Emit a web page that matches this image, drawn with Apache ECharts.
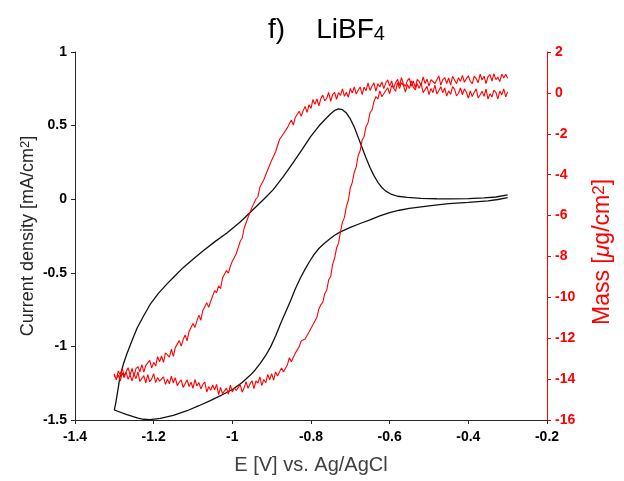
<!DOCTYPE html>
<html>
<head>
<meta charset="utf-8">
<script src="https://cdn.jsdelivr.net/npm/echarts@6/dist/echarts.min.js"></script>
<style>
html,body{margin:0;padding:0;background:#ffffff;}
#chart{width:624px;height:481px;}
</style>
</head>
<body>
<div id="chart"></div>
<script>
// ---- Cyclic voltammogram (current density, mA/cm2) ----
const cvPotential = [
  -0.300,-0.325,-0.350,-0.400,-0.450,-0.500,-0.550,-0.575,-0.600,-0.625,-0.650,-0.675,-0.700,-0.725,-0.740,-0.755,
  -0.768,-0.780,-0.792,-0.804,-0.815,-0.827,-0.840,-0.852,-0.865,-0.878,-0.890,-0.903,-0.916,-0.929,-0.942,-0.954,
  -0.975,-0.997,-1.030,-1.056,-1.085,-1.115,-1.150,-1.183,-1.210,-1.225,-1.240,-1.270,-1.300,
  -1.296,-1.293,-1.289,-1.286,-1.281,-1.277,-1.268,-1.255,-1.242,-1.225,-1.209,-1.188,-1.166,-1.145,-1.125,-1.100,
  -1.074,-1.045,-1.013,-0.980,-0.947,-0.920,-0.896,-0.870,-0.845,-0.822,-0.801,-0.780,-0.765,-0.750,-0.740,-0.730,
  -0.720,-0.710,-0.700,-0.690,-0.680,-0.670,-0.660,-0.650,-0.640,-0.630,-0.620,-0.610,-0.597,-0.580,-0.555,-0.520,
  -0.480,-0.445,-0.400,-0.360,-0.330,-0.300
];
const cvCurrent = [
  0.010,-0.002,-0.012,-0.022,-0.030,-0.045,-0.063,-0.075,-0.092,-0.113,-0.140,-0.165,-0.192,-0.222,-0.245,-0.275,
  -0.305,-0.335,-0.375,-0.425,-0.475,-0.535,-0.610,-0.690,-0.770,-0.850,-0.930,-1.005,-1.065,-1.115,-1.160,-1.195,
  -1.245,-1.288,-1.335,-1.368,-1.403,-1.437,-1.468,-1.489,-1.497,-1.495,-1.487,-1.462,-1.432,
  -1.380,-1.330,-1.265,-1.210,-1.160,-1.120,-1.050,-0.960,-0.875,-0.790,-0.715,-0.640,-0.575,-0.518,-0.465,-0.408,
  -0.350,-0.290,-0.228,-0.155,-0.070,0.000,0.065,0.155,0.250,0.340,0.425,0.497,0.540,0.580,0.603,0.613,
  0.608,0.585,0.545,0.490,0.420,0.350,0.280,0.215,0.160,0.115,0.080,0.055,0.035,0.020,0.012,0.006,
  0.003,0.002,0.004,0.009,0.015,0.030
];

// ---- Mass change (ug/cm2) on the potential sampling grid ----
const scanPotentials = [
  -0.300,-0.305,-0.310,-0.315,-0.320,-0.325,-0.330,-0.335,-0.340,-0.345,
  -0.350,-0.355,-0.360,-0.365,-0.370,-0.375,-0.380,-0.385,-0.390,-0.395,
  -0.400,-0.405,-0.410,-0.415,-0.420,-0.425,-0.430,-0.435,-0.440,-0.445,
  -0.450,-0.455,-0.460,-0.465,-0.470,-0.475,-0.480,-0.485,-0.490,-0.495,
  -0.500,-0.505,-0.510,-0.515,-0.520,-0.525,-0.530,-0.535,-0.540,-0.545,
  -0.550,-0.555,-0.560,-0.565,-0.570,-0.575,-0.580,-0.585,-0.590,-0.595,
  -0.600,-0.605,-0.610,-0.615,-0.620,-0.625,-0.630,-0.635,-0.640,-0.645,
  -0.650,-0.655,-0.660,-0.665,-0.670,-0.675,-0.680,-0.685,-0.690,-0.695,
  -0.700,-0.705,-0.710,-0.715,-0.720,-0.725,-0.730,-0.735,-0.740,-0.745,
  -0.750,-0.755,-0.760,-0.765,-0.770,-0.775,-0.780,-0.785,-0.790,-0.795,
  -0.800,-0.805,-0.810,-0.815,-0.820,-0.825,-0.830,-0.835,-0.840,-0.845,
  -0.850,-0.855,-0.860,-0.865,-0.870,-0.875,-0.880,-0.885,-0.890,-0.895,
  -0.900,-0.905,-0.910,-0.915,-0.920,-0.925,-0.930,-0.935,-0.940,-0.945,
  -0.950,-0.955,-0.960,-0.965,-0.970,-0.975,-0.980,-0.985,-0.990,-0.995,
  -1.000,-1.005,-1.010,-1.015,-1.020,-1.025,-1.030,-1.035,-1.040,-1.045,
  -1.050,-1.055,-1.060,-1.065,-1.070,-1.075,-1.080,-1.085,-1.090,-1.095,
  -1.100,-1.105,-1.110,-1.115,-1.120,-1.125,-1.130,-1.135,-1.140,-1.145,
  -1.150,-1.155,-1.160,-1.165,-1.170,-1.175,-1.180,-1.185,-1.190,-1.195,
  -1.200,-1.205,-1.210,-1.215,-1.220,-1.225,-1.230,-1.235,-1.240,-1.245,
  -1.250,-1.255,-1.260,-1.265,-1.270,-1.275,-1.280,-1.285,-1.290,-1.295,
  -1.300
];
// cathodic sweep, -0.30 V -> -1.30 V
const massCathodic = [
  0.05,-0.19,0.20,-0.10,0.09,-0.29,0.03,0.14,-0.20,-0.04,
  -0.30,0.19,-0.17,0.08,-0.09,-0.25,0.20,0.03,-0.18,0.10,
  -0.26,0.03,0.20,-0.09,0.24,-0.02,-0.15,0.18,0.31,-0.07,
  0.10,-0.16,0.24,0.01,0.30,0.12,-0.05,0.38,0.01,0.22,
  -0.08,0.32,0.29,0.01,0.47,0.22,0.45,0.14,0.28,0.59,
  0.21,0.41,0.04,0.37,0.49,0.21,0.50,0.08,0.24,0.36,
  -0.04,0.25,0.33,-0.04,-0.18,0.10,-0.30,-0.18,-0.43,-0.85,
  -0.97,-1.46,-1.65,-2.13,-2.31,-2.83,-3.06,-3.62,-3.88,-4.38,
  -4.65,-5.25,-5.55,-6.09,-6.32,-6.80,-7.35,-7.59,-8.09,-8.39,
  -8.98,-9.15,-9.65,-9.81,-10.25,-10.36,-10.57,-10.97,-11.05,-11.34,
  -11.33,-11.70,-11.67,-12.04,-11.95,-12.13,-12.42,-12.39,-12.73,-12.72,
  -13.15,-12.95,-13.30,-13.23,-13.65,-13.45,-13.46,-13.85,-13.65,-14.05,
  -13.73,-14.04,-13.77,-14.18,-14.02,-14.32,-13.89,-14.19,-14.09,-14.46,
  -14.08,-14.24,-14.45,-14.13,-14.42,-14.64,-14.27,-14.19,-14.55,-14.43,
  -14.63,-14.29,-14.74,-14.44,-14.35,-14.71,-14.40,-14.76,-14.26,-14.52,
  -14.29,-14.55,-14.37,-14.63,-14.14,-14.26,-14.48,-14.17,-14.34,-14.02,
  -14.45,-14.15,-14.36,-14.03,-14.23,-14.41,-14.04,-14.15,-14.32,-13.93,
  -14.19,-13.85,-14.23,-14.00,-14.26,-13.89,-13.81,-14.10,-13.92,-14.17,
  -13.73,-13.99,-14.13,-13.78,-14.19,-13.83,-13.89,-14.12,-13.65,-13.98,
  -13.76,-14.09,-13.80,-14.01,-13.66,-13.93,-13.69,-14.10,-13.80,-14.00,
  -13.85
];
// anodic sweep, -1.30 V -> -0.30 V
const massAnodic = [
  -13.75,-14.04,-13.60,-13.80,-13.48,-13.84,-13.64,-13.44,-13.81,-13.48,
  -13.84,-13.49,-13.39,-13.64,-13.29,-13.66,-13.33,-13.41,-13.08,-13.45,
  -13.18,-13.36,-12.90,-13.15,-12.87,-13.18,-12.71,-12.82,-12.92,-12.54,
  -12.89,-12.46,-12.52,-12.11,-12.39,-12.07,-11.84,-12.13,-11.67,-11.72,
  -11.28,-11.47,-11.15,-10.87,-11.12,-10.64,-10.68,-10.26,-10.49,-10.19,
  -10.20,-9.67,-9.78,-9.44,-9.57,-9.06,-9.06,-8.69,-8.82,-8.47,
  -8.23,-8.25,-7.87,-7.80,-7.26,-7.11,-6.62,-6.56,-6.08,-6.02,
  -5.60,-5.60,-5.19,-5.08,-4.61,-4.63,-4.25,-4.21,-3.76,-3.67,
  -3.29,-3.27,-2.88,-2.82,-2.28,-2.30,-2.00,-2.06,-1.70,-1.73,
  -1.33,-1.57,-1.20,-1.26,-0.90,-1.15,-0.88,-0.66,-0.95,-0.58,
  -0.76,-0.32,-0.56,-0.30,-0.63,-0.28,-0.11,-0.39,-0.26,0.02,
  -0.41,-0.09,0.02,-0.31,0.01,-0.12,0.20,-0.17,0.03,-0.21,
  0.22,-0.01,0.29,-0.06,0.14,0.29,-0.08,0.28,0.11,0.49,
  0.12,0.32,0.49,0.09,0.45,0.29,0.54,0.21,0.48,0.64,
  0.33,0.59,0.21,0.50,0.66,0.36,0.75,0.44,0.32,0.60,
  0.71,0.32,0.58,0.26,0.66,0.55,0.38,0.78,0.46,0.67,
  0.33,0.65,0.74,0.46,0.54,0.83,0.38,0.65,0.75,0.46,
  0.73,0.38,0.81,0.63,0.45,0.74,0.56,0.86,0.52,0.70,
  0.84,0.56,0.45,0.82,0.70,0.50,0.92,0.63,0.82,0.46,
  0.79,0.89,0.58,0.94,0.65,0.77,0.55,0.92,0.73,0.91,
  0.72
];

const xMin = -1.4, xMax = -0.2, xStep = 0.2;
const leftMin = -1.5, leftMax = 1, leftStep = 0.5;
const rightMin = -16, rightMax = 2, rightStep = 2;

const cvData = cvPotential.map((e, i) => [e, cvCurrent[i]]);
const anodicPotentials = scanPotentials.slice().reverse();
const massData = scanPotentials.map((e, i) => [e, massCathodic[i]])
  .concat(anodicPotentials.map((e, i) => [e, massAnodic[i]]));

const FONT = 'Liberation Sans, Arial, sans-serif';
const AXIS_DARK = '#262626';
const RED = '#ff0000';

const chart = echarts.init(document.getElementById('chart'), null, {renderer: 'canvas'});
chart.setOption({
  animation: false,
  backgroundColor: '#ffffff',
  title: {
    text: '{a|f)    LiBF}{s|4}',
    left: 263,
    top: 11,
    textStyle: {
      fontWeight: 'normal',
      rich: {
        a: {fontSize: 28, fontFamily: FONT, color: '#000', fontWeight: 'normal'},
        s: {fontSize: 20, fontFamily: FONT, color: '#000', fontWeight: 'normal', lineHeight: 10, verticalAlign: 'bottom'}
      }
    }
  },
  grid: {left: 75, right: 77, top: 52, bottom: 61, containLabel: false},
  xAxis: {
    type: 'value', min: xMin, max: xMax, interval: xStep,
    name: 'E [V] vs. Ag/AgCl', nameLocation: 'middle', nameGap: 35, nameMoveOverlap: false,
    nameTextStyle: {fontSize: 20, fontFamily: FONT, color: '#404040'},
    axisLine: {onZero: false, lineStyle: {color: AXIS_DARK, width: 1}},
    axisTick: {show: true, inside: false, length: 4, lineStyle: {color: AXIS_DARK}},
    axisLabel: {color: '#000', fontWeight: 'bold', fontSize: 14, fontFamily: FONT, margin: 10,
      formatter: v => String(+v.toFixed(1))},
    splitLine: {show: false}
  },
  yAxis: [
    {
      type: 'value', position: 'left', min: leftMin, max: leftMax, interval: leftStep,
      name: '{n|Current density [mA/cm}{p|2}{n|]}', nameLocation: 'middle', nameGap: 38, nameRotate: 90,
      nameMoveOverlap: false,
      nameTextStyle: {rich: {
        n: {fontSize: 18, fontFamily: FONT, color: '#262626'},
        p: {fontSize: 13, fontFamily: FONT, color: '#262626', lineHeight: 8, verticalAlign: 'top'}
      }},
      axisLine: {show: true, onZero: false, lineStyle: {color: AXIS_DARK, width: 1}},
      axisTick: {show: true, inside: false, length: 4, lineStyle: {color: AXIS_DARK}},
      axisLabel: {color: '#000', fontWeight: 'bold', fontSize: 14, fontFamily: FONT, margin: 8},
      splitLine: {show: false}
    },
    {
      type: 'value', position: 'right', min: rightMin, max: rightMax, interval: rightStep,
      name: '{n|Mass [}{m|\u03bc}{n|g/cm}{p|2}{n|]}{g|\u00a0\u00a0\u00a0\u00a0\u00a0}', nameLocation: 'middle', nameGap: 44, nameRotate: 90,
      nameMoveOverlap: false,
      nameTextStyle: {rich: {
        n: {fontSize: 23, fontFamily: FONT, color: RED},
        m: {fontSize: 23, fontFamily: FONT, color: RED, fontStyle: 'italic'},
        p: {fontSize: 17, fontFamily: FONT, color: RED, lineHeight: 8, verticalAlign: 'top'},
        g: {fontSize: 23, fontFamily: FONT, color: 'rgba(0,0,0,0)'}
      }},
      axisLine: {show: true, onZero: false, lineStyle: {color: RED, width: 1}},
      axisTick: {show: true, inside: false, length: 4, lineStyle: {color: RED}},
      axisLabel: {color: RED, fontWeight: 'bold', fontSize: 14, fontFamily: FONT, margin: 8},
      splitLine: {show: false}
    }
  ],
  series: [
    {
      name: 'Current density', type: 'line', yAxisIndex: 0, data: cvData,
      showSymbol: false, smooth: false,
      lineStyle: {color: '#111111', width: 1.3}
    },
    {
      name: 'Mass', type: 'line', yAxisIndex: 1, data: massData,
      showSymbol: false, smooth: false,
      lineStyle: {color: RED, width: 1.1}
    }
  ]
});
</script>
</body>
</html>
